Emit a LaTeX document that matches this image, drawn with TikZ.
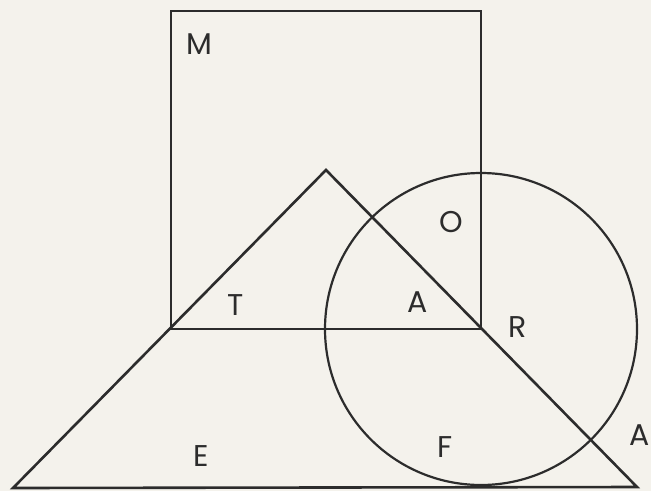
\documentclass[tikz,border=0pt]{standalone}
\usepackage{fontspec}
\setmainfont{Poppins}
\definecolor{paper}{HTML}{F4F2EC}
\definecolor{ink}{HTML}{2C2C2C}
\begin{document}
\begin{tikzpicture}[x=1pt,y=-1pt,
  shape line/.style={draw=ink,line width=2.9pt,line join=miter},
  letter/.style={text=ink,font=\fontsize{30}{30}\selectfont,inner sep=0pt,anchor=center}]
\fill[paper] (0,0) rectangle (651,491);
\useasboundingbox (0,0) rectangle (651,491);
% square
\coordinate (sqTL) at (171,11);
\coordinate (sqTR) at (481,11);
\coordinate (sqBR) at (481,329);
\coordinate (sqBL) at (171,329);
\draw[shape line] (sqTL) -- (sqTR) -- (sqBR) -- (sqBL) -- cycle;
% big triangle
\coordinate (apex) at (326,170);
\coordinate (baseL) at (13,488);
\coordinate (baseR) at (637,487);
\draw[shape line,line width=2.6pt] (apex) -- (baseR) -- (baseL) -- cycle;
% circle centred at the square's lower right corner
\draw[shape line,line width=2.2pt] (sqBR) circle[radius=156];
% letters
\node[letter] (M) at (199,44) {M};
\node[letter] (T) at (236,305) {T};
\node[letter] (A1) at (418,302) {A};
\node[letter] (O) at (451,222) {O};
\node[letter] (R) at (518,327) {R};
\node[letter] (F) at (445,447) {F};
\node[letter] (A2) at (640,435) {A};
\node[letter] (E) at (201,456) {E};
\end{tikzpicture}
\end{document}
